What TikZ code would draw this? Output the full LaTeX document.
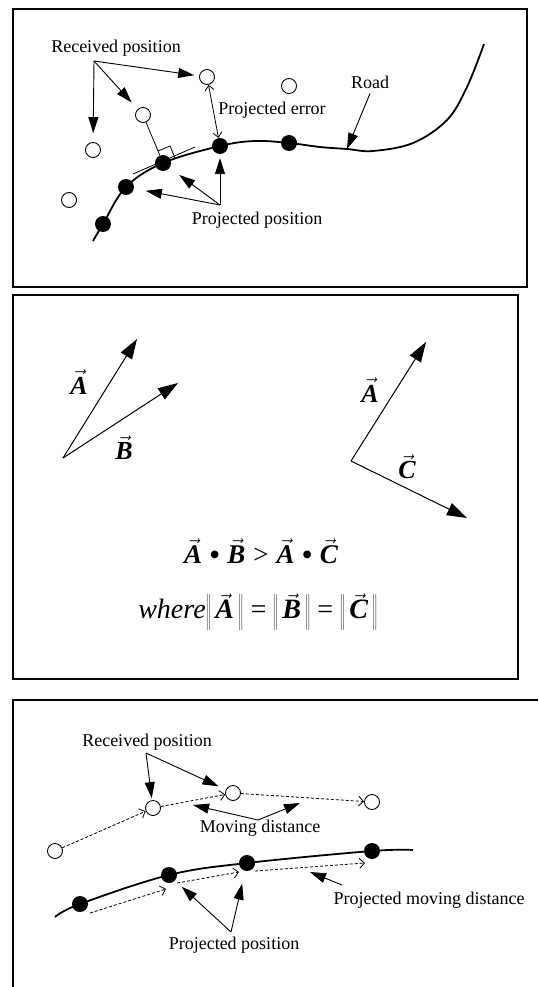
\documentclass[tikz,border=0pt]{standalone}
\usepackage{fontspec}
\setmainfont{Liberation Serif}
\usetikzlibrary{arrows.meta,calc}
\newcommand\vv[1]{\ensuremath{\vec{\mbox{\bfseries\itshape #1}}}}
\newcommand\bigdot{\raisebox{-2.5pt}{\fontsize{32}{32}\selectfont\textbullet}}
\begin{document}
\begin{tikzpicture}[x=1pt,y=-1pt,
  frame/.style={line width=2pt},
  lbl/.style={font=\fontsize{18}{21}\selectfont, inner sep=0pt},
  vlbl/.style={font=\fontsize{26}{29}\selectfont, inner sep=0pt},
  opendot/.style={circle, draw, line width=0.9pt, minimum size=15pt, inner sep=0pt, fill=white},
  fulldot/.style={circle, fill=black, minimum size=16pt, inner sep=0pt},
  pointer/.style={line width=0.9pt, -{Triangle[length=16pt,width=10pt]}},
  vecarrow/.style={line width=1pt, -{Triangle[length=20pt,width=13pt]}},
  thinline/.style={line width=0.8pt},
  errarrow/.style={line width=0.8pt, {Straight Barb[length=5pt,width=9pt]}-{Straight Barb[length=5pt,width=9pt]}},
  dasharrow/.style={line width=0.8pt, dash pattern=on 3pt off 2pt, -{Straight Barb[length=5pt,width=10pt]}},
  road/.style={line width=1.8pt},
]
\useasboundingbox (0,0) rectangle (538,987);

% ---------- panel 1 ----------
\draw[frame] (13,9) rectangle (527,287);
\draw[road] plot[smooth, tension=0.6] coordinates {(93,241) (103,224) (126,187) (163,163) (220,146) (255,141) (289,143) (320,147) (347,149) (373,151) (413,143) (447,120) (467,87) (484,44)};

\node[opendot] (oa) at (207,77) {};
\node[opendot] (ob) at (289,86) {};
\node[opendot] (oc) at (143,115) {};
\node[opendot] (od) at (93,150) {};
\node[opendot] (oe) at (69,200) {};
\node[fulldot] (fa) at (220,146) {};
\node[fulldot] (fb) at (289,143) {};
\node[fulldot] (fc) at (163,163) {};
\node[fulldot] (fd) at (126,187) {};
\node[fulldot] (fe) at (103,224) {};

\node[lbl] (rp1) at (116,48) {Received position};
\coordinate (br1) at (94,61);
\draw[pointer, shorten >=9pt] (br1) -- (od);
\draw[pointer, shorten >=9pt] (br1) -- (oc);
\draw[pointer, shorten >=5pt] (br1) -- (oa);

\draw[errarrow] (oa) -- (fa);
\node[lbl] (perr) at (272,110) {Projected error};

\node[lbl] (roadl) at (370,82) {Road};
\coordinate (rtip) at (347,149);
\draw[pointer] ([yshift=-5pt]roadl.south) -- (rtip);

\draw[thinline] (oc) -- (fc);
\draw[thinline] (fc.center) ++(-5,-12) -- ++(12,-5) -- ++(5,12);
\draw[thinline] ([shift={(-30,11)}]fc.center) -- ([shift={(32,-16)}]fc.center);

\node[lbl] (pp1) at (257,220) {Projected position};
\coordinate (br2) at (220,205);
\draw[pointer, shorten >=4pt] (br2) -- (fa);
\draw[pointer, shorten >=12pt] (br2) -- (fc);
\draw[pointer, shorten >=12pt] (br2) -- (fd);

% ---------- panel 2 ----------
\draw[frame] (13,295) rectangle (518,679);
\coordinate (o1) at (63,458);
\coordinate (a1) at (137,339);
\coordinate (b1) at (178,383);
\draw[vecarrow] (o1) -- (a1);
\draw[vecarrow] (o1) -- (b1);
\node[vlbl] (la1) at (79,382) {\vv{A}};
\node[vlbl] (lb1) at (124,448) {\vv{B}};
\coordinate (o2) at (351,461);
\coordinate (a2) at (426,342);
\coordinate (c2) at (467,518);
\draw[vecarrow] (o2) -- (a2);
\draw[vecarrow] (o2) -- (c2);
\node[vlbl] (la2) at (370,390) {\vv{A}};
\node[vlbl] (lc2) at (407,467) {\vv{C}};
\node[vlbl, font=\fontsize{27}{30}\selectfont] (eq1) at (261,552) {\vv{A}\hspace{7pt}\bigdot\hspace{7pt}\vv{B}\hspace{8pt}>\hspace{8pt}\vv{A}\hspace{7pt}\bigdot\hspace{7pt}\vv{C}};
\node[vlbl, font=\fontsize{28}{31}\selectfont] (eq2) at (258,612) {\itshape where$\left\|\,\vv{A}\,\right\|$\hspace{5pt}=\hspace{5pt}$\left\|\,\vv{B}\,\right\|$\hspace{5pt}=\hspace{5pt}$\left\|\,\vv{C}\,\right\|$};

% ---------- panel 3 ----------
\draw[frame] (538,700) -- (13,700) -- (13,987);
\draw[road] plot[smooth, tension=0.6] coordinates {(55,917) (80,904) (169,875) (247,863) (372,851) (413,850)};
\node[opendot] (pa) at (55,851) {};
\node[opendot] (pb) at (153,808) {};
\node[opendot] (pc) at (233,793) {};
\node[opendot] (pd) at (372,802) {};
\node[fulldot] (qa) at (80,904) {};
\node[fulldot] (qb) at (169,875) {};
\node[fulldot] (qc) at (247,863) {};
\node[fulldot] (qd) at (372,851) {};

\draw[dasharrow] (pa) -- (pb);
\draw[dasharrow] (pb) -- (pc);
\draw[dasharrow] (pc) -- (pd);
\draw[dasharrow] ([shift={(10,9)}]qa.center) -- ([shift={(-3,14)}]qb.center);
\draw[dasharrow] ([shift={(8,8)}]qb.center) -- ([shift={(-8,9)}]qc.center);
\draw[dasharrow] ([shift={(8,8)}]qc.center) -- ([shift={(-7,12)}]qd.center);

\node[lbl] (rp3) at (147,742) {Received position};
\coordinate (br3) at (146,753);
\draw[pointer, shorten >=2pt] (br3) -- (pb);
\draw[pointer, shorten >=8pt] (br3) -- (pc);

\node[lbl] (md) at (260,828) {Moving distance};
\coordinate (br4) at (258,820);
\coordinate (md1) at (193,805);
\coordinate (md2) at (300,803);
\draw[pointer] (br4) -- (md1);
\draw[pointer] (br4) -- (md2);

\node[lbl] (pmd) at (429,900) {Projected moving distance};
\coordinate (pmdtail) at (342,885);
\coordinate (pmdtip) at (310,872);
\draw[pointer] (pmdtail) -- (pmdtip);

\node[lbl] (pp3) at (234,945) {Projected position};
\coordinate (br5) at (231,932);
\draw[pointer, shorten >=9pt] (br5) -- (qb);
\draw[pointer, shorten >=13pt] (br5) -- (qc);
\end{tikzpicture}
\end{document}
